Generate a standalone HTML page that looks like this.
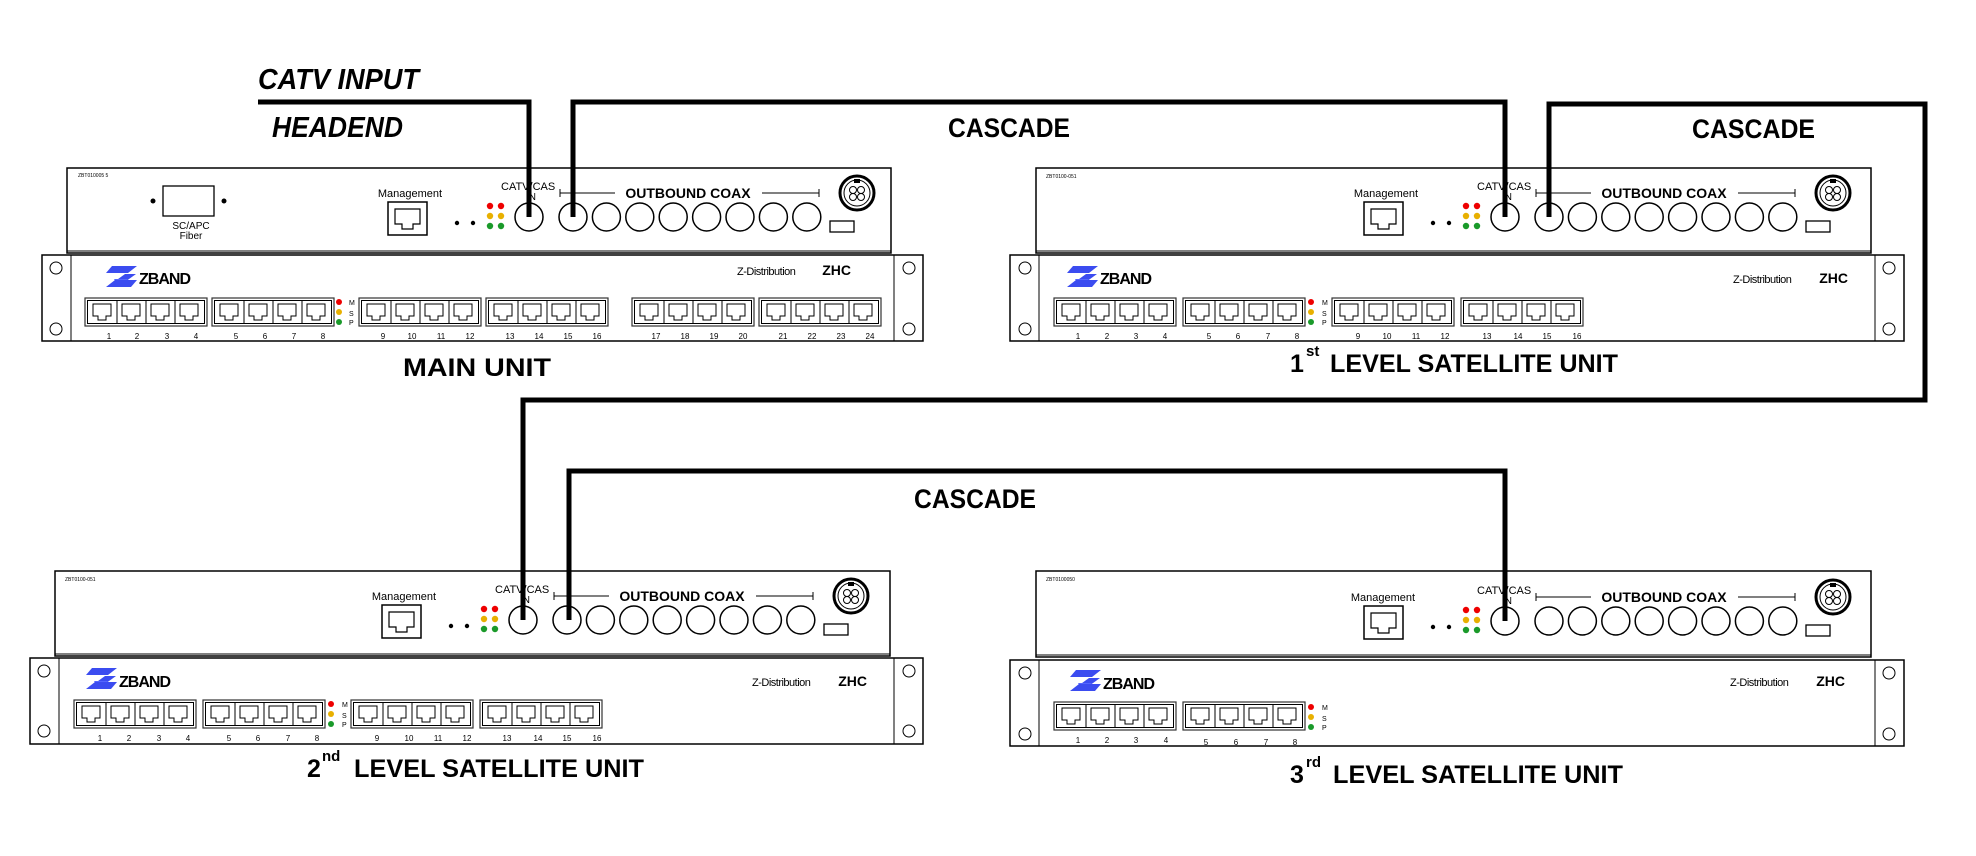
<!DOCTYPE html>
<html><head><meta charset="utf-8"><style>
html,body{margin:0;padding:0;background:#fff;}
svg{display:block;}
.t{font-family:"Liberation Sans",sans-serif;}
.b{font-family:"Liberation Sans",sans-serif;font-weight:bold;}
</style></head><body>
<svg width="1976" height="856" viewBox="0 0 1976 856" xmlns="http://www.w3.org/2000/svg">
<defs>
  <g id="port">
    <path d="M6,5 H24 V17 H19 V21 H11 V17 H6 Z" fill="#fff" stroke="#000" stroke-width="1"/>
  </g>
  <g id="grp">
    <rect x="0" y="0" width="122" height="28" fill="#fff" stroke="#333" stroke-width="1.2"/>
    <rect x="2.5" y="2.5" width="117" height="23" fill="#fff" stroke="#000" stroke-width="1"/>
    <line x1="32" y1="2.5" x2="32" y2="25.5" stroke="#000"/>
    <line x1="61" y1="2.5" x2="61" y2="25.5" stroke="#000"/>
    <line x1="90" y1="2.5" x2="90" y2="25.5" stroke="#000"/>
    <use href="#port" x="2" y="1"/><use href="#port" x="31" y="1"/><use href="#port" x="60" y="1"/><use href="#port" x="89" y="1"/>
  </g>
  <g id="fp">
    <rect x="-141" y="-15" width="39" height="33" fill="#fff" stroke="#000" stroke-width="1.5"/>
    <path d="M-134,-8 H-109 V7 H-116 V12 H-127 V7 H-134 Z" fill="#fff" stroke="#000" stroke-width="1.2"/>
    <circle cx="-72" cy="6" r="2.2" fill="#000"/><circle cx="-56" cy="6" r="2.2" fill="#000"/>
    <circle cx="-39" cy="-11" r="3.2" fill="#e00"/><circle cx="-28" cy="-11" r="3.2" fill="#e00"/>
    <circle cx="-39" cy="-1" r="3.2" fill="#e8b000"/><circle cx="-28" cy="-1" r="3.2" fill="#e8b000"/>
    <circle cx="-39" cy="9" r="3.2" fill="#1a9a2a"/><circle cx="-28" cy="9" r="3.2" fill="#1a9a2a"/>
    <circle cx="0" cy="0" r="14" fill="#fff" stroke="#000" stroke-width="1.5"/>
    <circle cx="44" cy="0" r="14" fill="#fff" stroke="#000" stroke-width="1.5"/>
    <circle cx="77.4" cy="0" r="14" fill="#fff" stroke="#000" stroke-width="1.5"/>
    <circle cx="110.8" cy="0" r="14" fill="#fff" stroke="#000" stroke-width="1.5"/>
    <circle cx="144.2" cy="0" r="14" fill="#fff" stroke="#000" stroke-width="1.5"/>
    <circle cx="177.6" cy="0" r="14" fill="#fff" stroke="#000" stroke-width="1.5"/>
    <circle cx="211" cy="0" r="14" fill="#fff" stroke="#000" stroke-width="1.5"/>
    <circle cx="244.4" cy="0" r="14" fill="#fff" stroke="#000" stroke-width="1.5"/>
    <circle cx="277.8" cy="0" r="14" fill="#fff" stroke="#000" stroke-width="1.5"/>
    <line x1="31" y1="-24" x2="290" y2="-24" stroke="#000" stroke-width="1"/>
    <line x1="31" y1="-28" x2="31" y2="-20" stroke="#000" stroke-width="1"/>
    <line x1="290" y1="-28" x2="290" y2="-20" stroke="#000" stroke-width="1"/>
    <rect x="86" y="-32" width="147" height="16" fill="#fff"/>
    <circle cx="328" cy="-24" r="17" fill="#fff" stroke="#000" stroke-width="3"/>
    <circle cx="328" cy="-24" r="13" fill="#fff" stroke="#000" stroke-width="1"/>
    <rect x="325" y="-38" width="6" height="4" fill="#000"/>
    <circle cx="324" cy="-27" r="3.5" fill="none" stroke="#000" stroke-width="1"/><circle cx="332" cy="-27" r="3.5" fill="none" stroke="#000" stroke-width="1"/>
    <circle cx="324" cy="-20" r="3.5" fill="none" stroke="#000" stroke-width="1"/><circle cx="332" cy="-20" r="3.5" fill="none" stroke="#000" stroke-width="1"/>
    <rect x="301" y="4" width="24" height="11" fill="#fff" stroke="#000" stroke-width="1.3"/>
  </g>
  <g id="logo">
    <path d="M6,0 H31 L22,7 H0 Z" fill="#3b4cf0"/>
    <path d="M19,8 H30 L12,21 H1 Z" fill="#3b4cf0"/>
    <path d="M8,13 H22 L13,21 Z" fill="#5566ff"/>
    <path d="M9,14 H31 L25,21 H0 Z" fill="#3b4cf0"/>
  </g>
</defs>

<!-- ============ MAIN UNIT ============ -->
<rect x="67" y="168" width="824" height="85" fill="#fff" stroke="#000" stroke-width="1.5"/>
<line x1="67" y1="251" x2="891" y2="251" stroke="#000" stroke-width="1"/>
<text x="78" y="177" class="t" font-size="5">ZBT010005 5</text>
<rect x="163" y="186" width="51" height="30" fill="#fff" stroke="#000" stroke-width="1.3"/>
<circle cx="153" cy="201" r="2.5"/><circle cx="224" cy="201" r="2.5"/>
<text x="191" y="229" class="t" font-size="10" text-anchor="middle">SC/APC</text>
<text x="191" y="239" class="t" font-size="10" text-anchor="middle">Fiber</text>
<use href="#fp" x="529" y="217"/>
<text x="410" y="197" class="t" font-size="11" text-anchor="middle">Management</text>
<text x="501" y="190" class="t" font-size="11">CATV/CAS</text>
<text x="526" y="200" class="t" font-size="10">IN</text>
<text x="688" y="198" class="b" font-size="14" text-anchor="middle">OUTBOUND COAX</text>

<rect x="42" y="255" width="881" height="86" fill="#fff" stroke="#000" stroke-width="1.5"/>
<line x1="71" y1="255" x2="71" y2="341" stroke="#000"/><line x1="894" y1="255" x2="894" y2="341" stroke="#000"/>
<circle cx="56" cy="268" r="6" fill="none" stroke="#000"/><circle cx="56" cy="329" r="6" fill="none" stroke="#000"/>
<circle cx="909" cy="268" r="6" fill="none" stroke="#000"/><circle cx="909" cy="329" r="6" fill="none" stroke="#000"/>
<use href="#logo" x="106" y="266"/>
<text x="139" y="284" class="b" font-size="16" letter-spacing="-1">ZBAND</text>
<text x="737" y="275" class="t" font-size="11" letter-spacing="-0.5">Z-Distribution</text>
<text x="851" y="275" class="b" font-size="14" text-anchor="end">ZHC</text>
<use href="#grp" x="85" y="298"/><use href="#grp" x="212" y="298"/><use href="#grp" x="359" y="298"/>
<use href="#grp" x="486" y="298"/><use href="#grp" x="632" y="298"/><use href="#grp" x="759" y="298"/>
<circle cx="339" cy="302" r="3" fill="#e00"/><circle cx="339" cy="312" r="3" fill="#e8b000"/><circle cx="339" cy="322" r="3" fill="#1a9a2a"/>
<text x="349" y="305" class="t" font-size="7">M</text><text x="349" y="316" class="t" font-size="7">S</text><text x="349" y="325" class="t" font-size="7">P</text>
<g class="t" font-size="8" text-anchor="middle">
<text x="109" y="339">1</text><text x="137" y="339">2</text><text x="167" y="339">3</text><text x="196" y="339">4</text>
<text x="236" y="339">5</text><text x="265" y="339">6</text><text x="294" y="339">7</text><text x="323" y="339">8</text>
<text x="383" y="339">9</text><text x="412" y="339">10</text><text x="441" y="339">11</text><text x="470" y="339">12</text>
<text x="510" y="339">13</text><text x="539" y="339">14</text><text x="568" y="339">15</text><text x="597" y="339">16</text>
<text x="656" y="339">17</text><text x="685" y="339">18</text><text x="714" y="339">19</text><text x="743" y="339">20</text>
<text x="783" y="339">21</text><text x="812" y="339">22</text><text x="841" y="339">23</text><text x="870" y="339">24</text>
</g>
<text x="403" y="376" class="b" font-size="25" textLength="148" lengthAdjust="spacingAndGlyphs">MAIN UNIT</text>

<!-- ============ 1st LEVEL ============ -->
<rect x="1036" y="168" width="835" height="85" fill="#fff" stroke="#000" stroke-width="1.5"/>
<line x1="1036" y1="251" x2="1871" y2="251" stroke="#000" stroke-width="1"/>
<text x="1046" y="178" class="t" font-size="5">ZBT0100-051</text>
<use href="#fp" x="1505" y="217"/>
<text x="1386" y="197" class="t" font-size="11" text-anchor="middle">Management</text>
<text x="1477" y="190" class="t" font-size="11">CATV/CAS</text>
<text x="1502" y="200" class="t" font-size="10">IN</text>
<text x="1664" y="198" class="b" font-size="14" text-anchor="middle">OUTBOUND COAX</text>

<rect x="1010" y="255" width="894" height="86" fill="#fff" stroke="#000" stroke-width="1.5"/>
<line x1="1039" y1="255" x2="1039" y2="341" stroke="#000"/><line x1="1875" y1="255" x2="1875" y2="341" stroke="#000"/>
<circle cx="1025" cy="268" r="6" fill="none" stroke="#000"/><circle cx="1025" cy="329" r="6" fill="none" stroke="#000"/>
<circle cx="1889" cy="268" r="6" fill="none" stroke="#000"/><circle cx="1889" cy="329" r="6" fill="none" stroke="#000"/>
<use href="#logo" x="1067" y="266"/>
<text x="1100" y="284" class="b" font-size="16" letter-spacing="-1">ZBAND</text>
<text x="1733" y="283" class="t" font-size="11" letter-spacing="-0.5">Z-Distribution</text>
<text x="1848" y="283" class="b" font-size="14" text-anchor="end">ZHC</text>
<use href="#grp" x="1054" y="298"/><use href="#grp" x="1183" y="298"/><use href="#grp" x="1332" y="298"/><use href="#grp" x="1461" y="298"/>
<circle cx="1311" cy="302" r="3" fill="#e00"/><circle cx="1311" cy="312" r="3" fill="#e8b000"/><circle cx="1311" cy="322" r="3" fill="#1a9a2a"/>
<text x="1322" y="305" class="t" font-size="7">M</text><text x="1322" y="316" class="t" font-size="7">S</text><text x="1322" y="325" class="t" font-size="7">P</text>
<g class="t" font-size="8" text-anchor="middle">
<text x="1078" y="339">1</text><text x="1107" y="339">2</text><text x="1136" y="339">3</text><text x="1165" y="339">4</text>
<text x="1209" y="339">5</text><text x="1238" y="339">6</text><text x="1268" y="339">7</text><text x="1297" y="339">8</text>
<text x="1358" y="339">9</text><text x="1387" y="339">10</text><text x="1416" y="339">11</text><text x="1445" y="339">12</text>
<text x="1487" y="339">13</text><text x="1518" y="339">14</text><text x="1547" y="339">15</text><text x="1577" y="339">16</text>
</g>
<text x="1290" y="372" class="b" font-size="25">1</text>
<text x="1306" y="356" class="b" font-size="15">st</text>
<text x="1330" y="372" class="b" font-size="25" textLength="288" lengthAdjust="spacingAndGlyphs">LEVEL SATELLITE UNIT</text>

<!-- ============ 2nd LEVEL ============ -->
<rect x="55" y="571" width="835" height="85" fill="#fff" stroke="#000" stroke-width="1.5"/>
<line x1="55" y1="654" x2="890" y2="654" stroke="#000" stroke-width="1"/>
<text x="65" y="581" class="t" font-size="5">ZBT0100-051</text>
<use href="#fp" x="523" y="620"/>
<text x="404" y="600" class="t" font-size="11" text-anchor="middle">Management</text>
<text x="495" y="593" class="t" font-size="11">CATV/CAS</text>
<text x="520" y="603" class="t" font-size="10">IN</text>
<text x="682" y="601" class="b" font-size="14" text-anchor="middle">OUTBOUND COAX</text>

<rect x="30" y="658" width="893" height="86" fill="#fff" stroke="#000" stroke-width="1.5"/>
<line x1="59" y1="658" x2="59" y2="744" stroke="#000"/><line x1="894" y1="658" x2="894" y2="744" stroke="#000"/>
<circle cx="44" cy="671" r="6" fill="none" stroke="#000"/><circle cx="44" cy="731" r="6" fill="none" stroke="#000"/>
<circle cx="909" cy="671" r="6" fill="none" stroke="#000"/><circle cx="909" cy="731" r="6" fill="none" stroke="#000"/>
<use href="#logo" x="86" y="668"/>
<text x="119" y="687" class="b" font-size="16" letter-spacing="-1">ZBAND</text>
<text x="752" y="686" class="t" font-size="11" letter-spacing="-0.5">Z-Distribution</text>
<text x="867" y="686" class="b" font-size="14" text-anchor="end">ZHC</text>
<use href="#grp" x="74" y="700"/><use href="#grp" x="203" y="700"/><use href="#grp" x="351" y="700"/><use href="#grp" x="480" y="700"/>
<circle cx="331" cy="704" r="3" fill="#e00"/><circle cx="331" cy="714" r="3" fill="#e8b000"/><circle cx="331" cy="724" r="3" fill="#1a9a2a"/>
<text x="342" y="707" class="t" font-size="7">M</text><text x="342" y="718" class="t" font-size="7">S</text><text x="342" y="727" class="t" font-size="7">P</text>
<g class="t" font-size="8" text-anchor="middle">
<text x="100" y="741">1</text><text x="129" y="741">2</text><text x="159" y="741">3</text><text x="188" y="741">4</text>
<text x="229" y="741">5</text><text x="258" y="741">6</text><text x="288" y="741">7</text><text x="317" y="741">8</text>
<text x="377" y="741">9</text><text x="409" y="741">10</text><text x="438" y="741">11</text><text x="467" y="741">12</text>
<text x="507" y="741">13</text><text x="538" y="741">14</text><text x="567" y="741">15</text><text x="597" y="741">16</text>
</g>
<text x="307" y="777" class="b" font-size="25">2</text>
<text x="322" y="761" class="b" font-size="15">nd</text>
<text x="354" y="777" class="b" font-size="25" textLength="290" lengthAdjust="spacingAndGlyphs">LEVEL SATELLITE UNIT</text>

<!-- ============ 3rd LEVEL ============ -->
<rect x="1036" y="571" width="835" height="86" fill="#fff" stroke="#000" stroke-width="1.5"/>
<line x1="1036" y1="655" x2="1871" y2="655" stroke="#000" stroke-width="1"/>
<text x="1046" y="581" class="t" font-size="5">ZBT0100050</text>
<use href="#fp" x="1505" y="621"/>
<text x="1383" y="601" class="t" font-size="11" text-anchor="middle">Management</text>
<text x="1477" y="594" class="t" font-size="11">CATV/CAS</text>
<text x="1502" y="604" class="t" font-size="10">IN</text>
<text x="1664" y="602" class="b" font-size="14" text-anchor="middle">OUTBOUND COAX</text>

<rect x="1010" y="660" width="894" height="86" fill="#fff" stroke="#000" stroke-width="1.5"/>
<line x1="1039" y1="660" x2="1039" y2="746" stroke="#000"/><line x1="1875" y1="660" x2="1875" y2="746" stroke="#000"/>
<circle cx="1025" cy="673" r="6" fill="none" stroke="#000"/><circle cx="1025" cy="734" r="6" fill="none" stroke="#000"/>
<circle cx="1889" cy="673" r="6" fill="none" stroke="#000"/><circle cx="1889" cy="734" r="6" fill="none" stroke="#000"/>
<use href="#logo" x="1070" y="670"/>
<text x="1103" y="689" class="b" font-size="16" letter-spacing="-1">ZBAND</text>
<text x="1730" y="686" class="t" font-size="11" letter-spacing="-0.5">Z-Distribution</text>
<text x="1845" y="686" class="b" font-size="14" text-anchor="end">ZHC</text>
<use href="#grp" x="1054" y="702"/><use href="#grp" x="1183" y="702"/>
<circle cx="1311" cy="707" r="3" fill="#e00"/><circle cx="1311" cy="717" r="3" fill="#e8b000"/><circle cx="1311" cy="727" r="3" fill="#1a9a2a"/>
<text x="1322" y="710" class="t" font-size="7">M</text><text x="1322" y="721" class="t" font-size="7">S</text><text x="1322" y="730" class="t" font-size="7">P</text>
<g class="t" font-size="8" text-anchor="middle">
<text x="1078" y="743">1</text><text x="1107" y="743">2</text><text x="1136" y="743">3</text><text x="1166" y="743">4</text>
<text x="1206" y="745">5</text><text x="1236" y="745">6</text><text x="1266" y="745">7</text><text x="1295" y="745">8</text>
</g>
<text x="1290" y="783" class="b" font-size="25">3</text>
<text x="1306" y="767" class="b" font-size="15">rd</text>
<text x="1333" y="783" class="b" font-size="25" textLength="290" lengthAdjust="spacingAndGlyphs">LEVEL SATELLITE UNIT</text>

<!-- ============ Labels ============ -->
<text x="258" y="89" class="b" font-size="29" font-style="italic" textLength="161" lengthAdjust="spacingAndGlyphs">CATV INPUT</text>
<text x="272" y="137" class="b" font-size="29" font-style="italic" textLength="131" lengthAdjust="spacingAndGlyphs">HEADEND</text>
<text x="948" y="137" class="b" font-size="27" textLength="122" lengthAdjust="spacingAndGlyphs">CASCADE</text>
<text x="1692" y="138" class="b" font-size="27" textLength="123" lengthAdjust="spacingAndGlyphs">CASCADE</text>
<text x="914" y="508" class="b" font-size="27" textLength="122" lengthAdjust="spacingAndGlyphs">CASCADE</text>

<!-- ============ Cables ============ -->
<g fill="none" stroke="#000" stroke-width="5" stroke-linejoin="miter">
<path d="M258,102 H529 V217"/>
<path d="M573,217 V102 H1505 V217"/>
<path d="M1549,217 V104 H1925 V400 H523 V620"/>
<path d="M569,620 V471 H1505 V621"/>
</g>
</svg>
</body></html>
